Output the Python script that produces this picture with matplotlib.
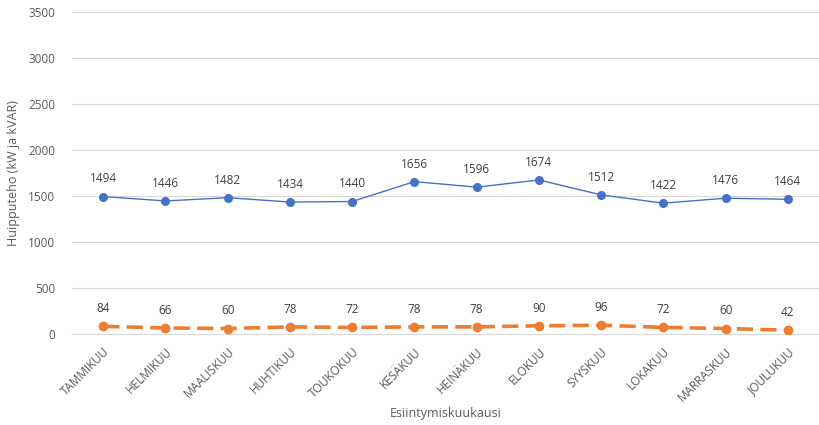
import matplotlib
matplotlib.use("Agg")
import matplotlib.pyplot as plt

months = ["TAMMIKUU", "HELMIKUU", "MAALISKUU", "HUHTIKUU", "TOUKOKUU", "KESÄKUU",
          "HEINÄKUU", "ELOKUU", "SYYSKUU", "LOKAKUU", "MARRASKUU", "JOULUKUU"]
active_kw = [1494, 1446, 1482, 1434, 1440, 1656, 1596, 1674, 1512, 1422, 1476, 1464]
reactive_kvar = [84, 66, 60, 78, 72, 78, 78, 90, 96, 72, 60, 42]
y_ticks = [0, 500, 1000, 1500, 2000, 2500, 3000, 3500]

text_color = "#595959"
plt.rcParams["font.family"] = ["Open Sans", "DejaVu Sans"]

fig = plt.figure(figsize=(8.19, 4.25), dpi=100)
ax = fig.add_axes([0.088, 0.214, 0.912, 0.758])

x = list(range(len(months)))
ax.plot(x, active_kw, color="#4472C4", lw=1.0, marker="o", ms=5.5, zorder=3)
ax.plot(x, reactive_kvar, color="#ED7D31", lw=2.6, ls=(0, (4.5, 2)), marker="o", ms=6, zorder=3)

for xi, v in zip(x, active_kw):
    ax.annotate(str(v), (xi, v), xytext=(0, 8), textcoords="offset points",
                ha="center", va="bottom", fontsize=8.5, color="#404040")
for xi, v in zip(x, reactive_kvar):
    ax.annotate(str(v), (xi, v), xytext=(0, 8), textcoords="offset points",
                ha="center", va="bottom", fontsize=8.5, color="#404040")

ax.set_xlim(-0.5, len(months) - 0.5)
ax.set_ylim(0, 3500)
ax.set_yticks(y_ticks)
ax.set_xticks(x)
ax.set_xticklabels(months, rotation=45, ha="right", rotation_mode="anchor")
ax.tick_params(axis="both", length=0, labelsize=8.5, colors=text_color)
ax.tick_params(axis="x", pad=8)
ax.tick_params(axis="y", pad=12)
ax.grid(axis="y", color="#D9D9D9", lw=0.8)
ax.set_axisbelow(True)
for s in ["top", "right", "left"]:
    ax.spines[s].set_visible(False)
ax.spines["bottom"].set_color("#D9D9D9")
ax.spines["bottom"].set_linewidth(0.8)

ax.set_ylabel("Huipputeho (kW ja kVAR)", fontsize=9, color=text_color, labelpad=6)
ax.set_xlabel("Esiintymiskuukausi", fontsize=9, color=text_color, labelpad=2)

fig.savefig("out.png", dpi=100)
